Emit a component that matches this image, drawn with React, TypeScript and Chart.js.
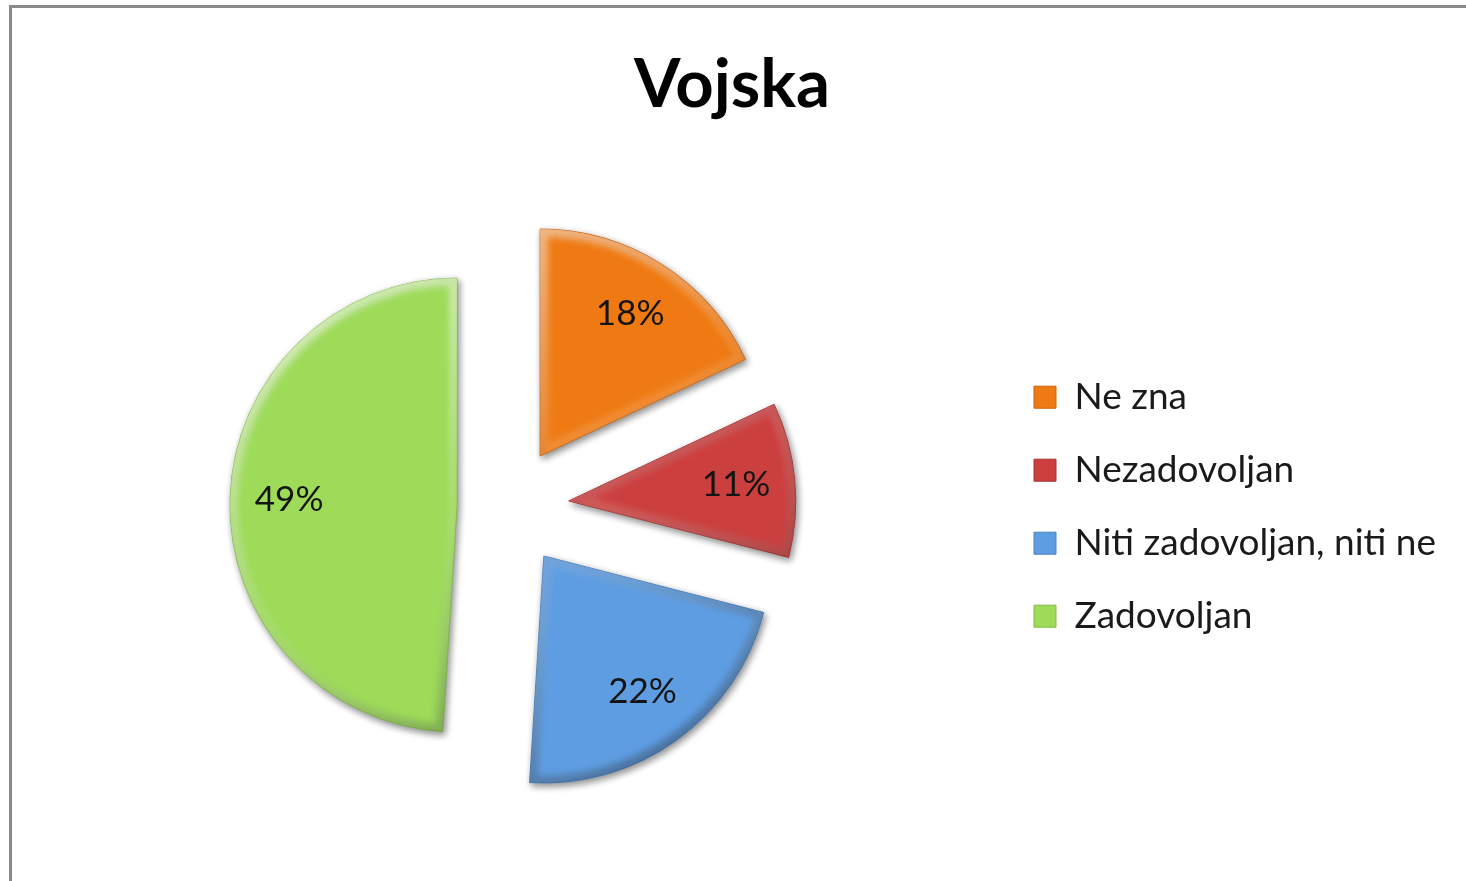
import React, { useEffect, useRef } from "react";
import { Chart, registerables } from "chart.js";

Chart.register(...registerables);

// ---- data ----
const TITLE = "Vojska";
const CATEGORIES = ["Ne zna", "Nezadovoljan", "Niti zadovoljan, niti ne", "Zadovoljan"];
const SHARES = [18, 11, 22, 49];
const COLORS = ["#EF7A13", "#CC3F3F", "#5E9DE2", "#9DDB59"];
const BORDERS = ["#C9620A", "#A83030", "#4A82C0", "#80BA44"];
const EXPLODE = [60, 61, 61, 51];

// ---- style constants ----
const FONT = "Lato";
const TITLE_SIZE = 67;
const LEGEND_SIZE = 37;
const LEGEND_BOX = 22;
const LEGEND_PAD = 36;
const LABEL_SIZE = 35;
const PIE_RADIUS = 227;

const explodedBevel = {
  id: "explodedBevel",
  beforeDatasetDraw(chart: any, args: any) {
    const meta = chart.getDatasetMeta(args.index);
    const ds = chart.data.datasets[args.index];
    const ctx: CanvasRenderingContext2D = chart.ctx;
    meta.data.forEach((arc: any, i: number) => {
      const { x, y, startAngle, endAngle, outerRadius } = arc;
      const mid = (startAngle + endAngle) / 2;
      const d = (ds.explode && ds.explode[i]) || 0;
      ctx.save();
      ctx.translate(Math.cos(mid) * d, Math.sin(mid) * d);
      // slice with drop shadow
      ctx.save();
      ctx.shadowColor = "rgba(0,0,0,0.45)";
      ctx.shadowBlur = 7;
      ctx.shadowOffsetX = 2;
      ctx.shadowOffsetY = 3;
      arc.draw(ctx);
      ctx.restore();
      // bevel
      const path = new Path2D();
      path.moveTo(x, y);
      path.arc(x, y, outerRadius, startAngle, endAngle);
      path.closePath();
      ctx.save();
      ctx.clip(path);
      const g = ctx.createLinearGradient(x - outerRadius * 0.6, y - outerRadius, x + outerRadius * 0.6, y + outerRadius);
      g.addColorStop(0, "rgba(255,255,255,0.6)");
      g.addColorStop(0.5, "rgba(255,255,255,0.15)");
      g.addColorStop(1, "rgba(0,0,0,0.35)");
      (ctx as any).filter = "blur(3px)";
      ctx.lineWidth = 16;
      ctx.lineJoin = "round";
      ctx.strokeStyle = g;
      ctx.stroke(path);
      ctx.restore();
      ctx.restore();
    });
    return false;
  },
};

const sliceLabels = {
  id: "sliceLabels",
  afterDatasetsDraw(chart: any) {
    const ctx: CanvasRenderingContext2D = chart.ctx;
    const meta = chart.getDatasetMeta(0);
    const ds = chart.data.datasets[0];
    const total = ds.data.reduce((a: number, b: number) => a + b, 0);
    ctx.save();
    ctx.font = `${LABEL_SIZE}px ${FONT}`;
    ctx.fillStyle = "#141414";
    ctx.textAlign = "center";
    ctx.textBaseline = "middle";
    meta.data.forEach((arc: any, i: number) => {
      const { x, y, startAngle, endAngle, outerRadius } = arc;
      const mid = (startAngle + endAngle) / 2;
      const dist = ((ds.explode && ds.explode[i]) || 0) + outerRadius * 0.74;
      const pct = Math.round((ds.data[i] / total) * 100);
      ctx.fillText(`${pct}%`, x + Math.cos(mid) * dist, y + Math.sin(mid) * dist);
    });
    ctx.restore();
  },
};

export default function App() {
  const ref = useRef<HTMLCanvasElement>(null);

  useEffect(() => {
    const canvas = ref.current!;
    const c2 = canvas.getContext("2d")!;
    c2.font = `${LEGEND_SIZE}px ${FONT}`;
    const maxText = Math.max(...CATEGORIES.map((t) => c2.measureText(t).width));
    const itemW = LEGEND_BOX + LEGEND_SIZE / 2 + maxText;
    const legendBoxX = 1034;
    const legendLeft = legendBoxX - LEGEND_PAD;
    const legendRight = legendBoxX + itemW + 10;
    const centerX = 508;
    const padL = 2 * centerX - legendLeft;
    const padR = Math.max(0, 1466 - legendRight);

    const chart = new Chart(canvas, {
      type: "pie",
      data: {
        labels: CATEGORIES,
        datasets: [
          {
            data: SHARES,
            backgroundColor: COLORS,
            borderColor: BORDERS,
            borderWidth: 1,
            radius: PIE_RADIUS,
            explode: EXPLODE,
          } as any,
        ],
      },
      plugins: [explodedBevel, sliceLabels],
      options: {
        responsive: false,
        animation: false,
        layout: { padding: { left: padL, right: padR, top: 0, bottom: 67 } },
        plugins: {
          title: {
            display: true,
            text: TITLE,
            color: "#000",
            font: { family: FONT, size: TITLE_SIZE, weight: "bold", lineHeight: 1.2 },
            padding: { top: 45, bottom: 74 },
          },
          legend: {
            position: "right",
            fullSize: false,
            labels: {
              color: "#1a1a1a",
              font: { family: FONT, size: LEGEND_SIZE },
              boxWidth: LEGEND_BOX,
              boxHeight: LEGEND_BOX,
              padding: LEGEND_PAD,
            },
          },
          tooltip: { enabled: false },
        },
      } as any,
    });
    return () => chart.destroy();
  }, []);

  return (
    <div>
      <div
        style={{
          position: "fixed",
          left: 9,
          top: 5,
          width: 1480,
          height: 873,
          borderLeft: "3px solid #8a8a8a",
          borderTop: "3px solid #8a8a8a",
          borderBottom: "2px solid #e4e4e4",
          background: "#fff",
        }}
      />
      <canvas
        ref={ref}
        width={1466}
        height={881}
        style={{ position: "fixed", left: 0, top: 0, width: 1466, height: 881 }}
      />
    </div>
  );
}
